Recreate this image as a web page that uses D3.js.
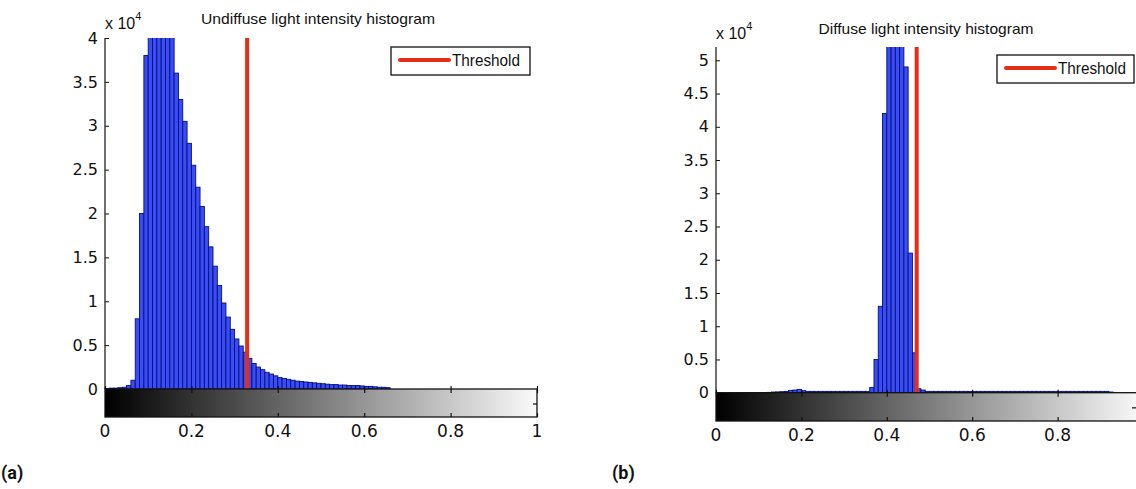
<!DOCTYPE html>
<html>
<head>
<meta charset="utf-8">
<script src="https://cdn.jsdelivr.net/npm/d3@7"></script>
<style>
  html, body { margin: 0; padding: 0; background: #fff; }
  svg { display: block; }
  .tick-label { font-family: "DejaVu Sans", sans-serif; fill: #111; }
  .title { font-family: "Liberation Sans", Arial, sans-serif; fill: #111; }
  .panel-label { font-family: Roboto, "Liberation Sans", sans-serif; font-weight: bold; fill: #111; }
</style>
</head>
<body>
<svg id="chart" width="1136" height="489"></svg>
<script>
// Histogram bin width (intensity units) shared by both panels
var binWidth = 0.01;

// (a) Undiffuse: counts per bin, in units of 10^4, starting at intensity 0
var undiffuseCounts = [
  0.005, 0.01, 0.01, 0.015, 0.02, 0.04, 0.1, 0.8, 2.0, 3.8,
  4.5, 4.6, 4.6, 4.5, 4.3, 4.05, 3.6, 3.3, 3.05, 2.8,
  2.55, 2.3, 2.08, 1.85, 1.62, 1.4, 1.18, 0.98, 0.82, 0.68,
  0.57, 0.49, 0.42, 0.35, 0.29, 0.25, 0.22, 0.19, 0.17, 0.15,
  0.13, 0.12, 0.11, 0.1, 0.09, 0.085, 0.08, 0.075, 0.07, 0.065,
  0.06, 0.055, 0.05, 0.05, 0.045, 0.045, 0.04, 0.04, 0.04, 0.035,
  0.03, 0.03, 0.025, 0.02, 0.02, 0.015
];

// (b) Diffuse: counts per bin, in units of 10^4, starting at intensity 0
var diffuseCounts = [
  0.002, 0.002, 0.002, 0.002, 0.002, 0.002, 0.002, 0.002, 0.002, 0.002,
  0.002, 0.002, 0.005, 0.01, 0.012, 0.015, 0.02, 0.035, 0.04, 0.05,
  0.03, 0.02, 0.02, 0.02, 0.02, 0.02, 0.02, 0.02, 0.02, 0.02,
  0.02, 0.02, 0.02, 0.02, 0.02, 0.02, 0.08, 0.5, 1.3, 4.2,
  5.6, 6.0, 6.2, 6.0, 4.9, 2.1, 0.6, 0.06, 0.04, 0.02,
  0.02, 0.02, 0.02, 0.02, 0.02, 0.02, 0.02, 0.02, 0.02, 0.02,
  0.02, 0.02, 0.02, 0.02, 0.02, 0.02, 0.02, 0.02, 0.02, 0.02,
  0.02, 0.02, 0.02, 0.02, 0.02, 0.02, 0.02, 0.02, 0.02, 0.02,
  0.02, 0.02, 0.02, 0.02, 0.02, 0.02, 0.02, 0.02, 0.02, 0.02,
  0.02, 0.02, 0.01
];

var undiffuseYTicks = [0, 0.5, 1, 1.5, 2, 2.5, 3, 3.5, 4];
var diffuseYTicks = [0, 0.5, 1, 1.5, 2, 2.5, 3, 3.5, 4, 4.5, 5];
var xTicks = [0, 0.2, 0.4, 0.6, 0.8, 1];
// the right panel runs past the page edge, so its "1" label is not shown
var undiffuseXLabels = [0, 0.2, 0.4, 0.6, 0.8, 1];
var diffuseXLabels = [0, 0.2, 0.4, 0.6, 0.8];

var undiffuseThreshold = 0.329;
var diffuseThreshold = 0.47;

var titles = ['Undiffuse light intensity histogram', 'Diffuse light intensity histogram'];
var panelLabels = ['(a)', '(b)'];
var legendText = 'Threshold';

(function () {
    'use strict';

    var svg = d3.select('#chart');
    var defs = svg.append('defs');

    var grad = defs.append('linearGradient').attr('id', 'grayramp')
        .attr('x1', '0%').attr('x2', '100%').attr('y1', '0%').attr('y2', '0%');
    grad.append('stop').attr('offset', '0%').attr('stop-color', '#000');
    grad.append('stop').attr('offset', '100%').attr('stop-color', '#fafafa');

    function drawPanel(p, idx) {
        var x = d3.scaleLinear().domain([0, 1]).range([p.left, p.right]);
        var y = d3.scaleLinear().domain([0, p.yMax]).range([p.zero, p.top]);
        var g = svg.append('g');

        var clipId = 'clip' + idx;
        defs.append('clipPath').attr('id', clipId)
            .append('rect')
            .attr('x', p.left).attr('y', p.top)
            .attr('width', p.right - p.left).attr('height', p.zero - p.top);

        // bars
        g.append('g').attr('clip-path', 'url(#' + clipId + ')')
            .selectAll('rect').data(p.counts).join('rect')
            .attr('x', function (d, i) { return x(i * binWidth); })
            .attr('width', function (d, i) { return x((i + 1) * binWidth) - x(i * binWidth); })
            .attr('y', function (d) { return y(d); })
            .attr('height', function (d) { return y(0) - y(d); })
            .attr('fill', '#3a4cf6')
            .attr('stroke', '#05107a')
            .attr('stroke-width', 0.9);

        // threshold line
        g.append('line')
            .attr('x1', x(p.threshold)).attr('x2', x(p.threshold))
            .attr('y1', y(p.yMax)).attr('y2', y(0))
            .attr('stroke', '#e62d16').attr('stroke-width', 4);

        // y axis (ticks point inward)
        var yAxis = d3.axisLeft(y).tickValues(p.yTicks).tickSize(-4).tickPadding(7)
            .tickFormat(d3.format('~g'));
        var ya = g.append('g').attr('transform', 'translate(' + p.left + ',0)').call(yAxis);
        ya.select('.domain').attr('stroke', '#111').attr('stroke-width', 1.2)
            .attr('d', 'M0,' + p.top + 'V' + p.zero);
        ya.selectAll('.tick line').attr('stroke', '#111');
        ya.selectAll('.tick text').attr('class', 'tick-label').attr('font-size', 16)
            .attr('font-family', null);

        // colorbar under the histogram
        var cb = g.append('g');
        cb.append('rect')
            .attr('x', p.left).attr('y', p.zero)
            .attr('width', p.cbRight - p.left).attr('height', p.cbBottom - p.zero)
            .attr('fill', 'url(#grayramp)')
            .attr('stroke', '#111').attr('stroke-width', 1.3);

        var xAxisTop = d3.axisBottom(x).tickValues(xTicks).tickSize(4).tickFormat('');
        var xt = cb.append('g').attr('transform', 'translate(0,' + p.zero + ')').call(xAxisTop);
        xt.select('.domain').remove();
        xt.selectAll('.tick line').attr('stroke', '#111').attr('stroke-width', 1.2)
            .attr('y1', -3);

        var xAxisBottom = d3.axisBottom(x).tickValues(xTicks).tickSize(-4).tickFormat('');
        var xb = cb.append('g').attr('transform', 'translate(0,' + p.cbBottom + ')').call(xAxisBottom);
        xb.select('.domain').remove();
        xb.selectAll('.tick line').attr('stroke', '#111').attr('stroke-width', 1.2);

        cb.append('g').selectAll('text').data(p.xLabels).join('text')
            .attr('class', 'tick-label')
            .attr('x', function (d) { return x(d); })
            .attr('y', p.cbBottom + 20)
            .attr('text-anchor', 'middle')
            .attr('font-size', 17)
            .text(d3.format('~g'));

        // small tick on the colorbar's right side
        cb.append('line')
            .attr('x1', p.sideTickX - 4).attr('x2', p.sideTickX)
            .attr('y1', (p.zero + p.cbBottom) / 2 + 1).attr('y2', (p.zero + p.cbBottom) / 2 + 1)
            .attr('stroke', '#111').attr('stroke-width', 1.2);

        // exponent label
        var ex = g.append('text').attr('class', 'title')
            .attr('x', p.left).attr('y', p.expY).attr('font-size', 16);
        ex.append('tspan').text('x 10');
        ex.append('tspan').attr('dy', -9).attr('font-size', 11).text('4');

        // title
        g.append('text').attr('class', 'title')
            .attr('x', p.titleX).attr('y', p.titleY).attr('font-size', 15)
            .attr('text-anchor', 'middle')
            .attr('textLength', p.titleLen).attr('lengthAdjust', 'spacingAndGlyphs')
            .text(p.title);

        // legend
        var lg = g.append('g');
        lg.append('rect')
            .attr('x', p.legX).attr('y', p.legY).attr('width', p.legW).attr('height', 28)
            .attr('fill', '#fff').attr('stroke', '#111').attr('stroke-width', 1.3);
        lg.append('line')
            .attr('x1', p.legX + 9).attr('x2', p.legX + 58)
            .attr('y1', p.legY + 13).attr('y2', p.legY + 13)
            .attr('stroke', '#e62d16').attr('stroke-width', 4).attr('stroke-linecap', 'round');
        lg.append('text').attr('class', 'title')
            .attr('x', p.legX + 61).attr('y', p.legY + 19).attr('font-size', 16)
            .attr('textLength', 68).attr('lengthAdjust', 'spacingAndGlyphs')
            .text(legendText);

        // panel label
        g.append('text').attr('class', 'panel-label')
            .attr('x', p.labelX).attr('y', 479).attr('font-size', 18)
            .text(p.label);
    }

    var panels = [
        {
            counts: undiffuseCounts, yTicks: undiffuseYTicks, xLabels: undiffuseXLabels, yMax: 4,
            threshold: undiffuseThreshold, title: titles[0], label: panelLabels[0],
            left: 105, right: 537, top: 38, zero: 389, cbRight: 537, cbBottom: 417,
            sideTickX: 537, expY: 29, titleX: 318, titleY: 24, titleLen: 234,
            legX: 391, legY: 47, legW: 139, labelX: 1
        },
        {
            counts: diffuseCounts, yTicks: diffuseYTicks, xLabels: diffuseXLabels, yMax: 5.2,
            threshold: diffuseThreshold, title: titles[1], label: panelLabels[1],
            left: 716, right: 1143, top: 47, zero: 392.7, cbRight: 1143, cbBottom: 421,
            sideTickX: 1136, expY: 39, titleX: 926, titleY: 34, titleLen: 215,
            legX: 997, legY: 55, legW: 137, labelX: 612
        }
    ];

    panels.forEach(drawPanel);
})();
</script>
</body>
</html>
